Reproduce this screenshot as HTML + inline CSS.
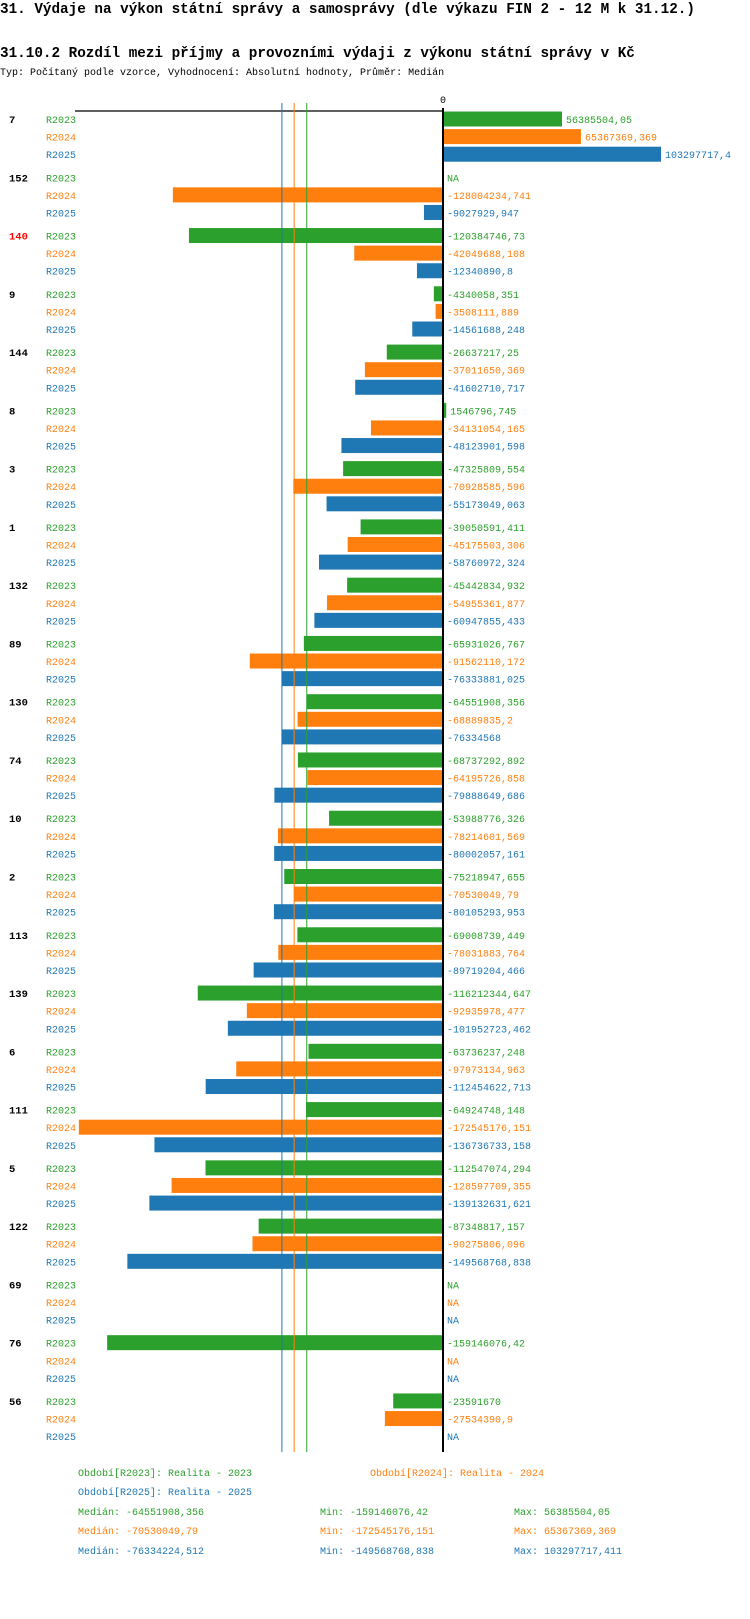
<!DOCTYPE html>
<html><head><meta charset="utf-8"><style>
body{margin:0;background:#fff;width:750px;height:1614px;overflow:hidden;font-family:"Liberation Mono",monospace}
svg text{font-family:"Liberation Mono",monospace}
</style></head><body>
<svg id="chart" width="750" height="1614" xmlns="http://www.w3.org/2000/svg">
<text x="0" y="13" font-size="14.3" font-weight="bold">31. Výdaje na výkon státní správy a samosprávy (dle výkazu FIN 2 - 12 M k 31.12.)</text>
<text x="0" y="57" font-size="14.3" font-weight="bold">31.10.2 Rozdíl mezi příjmy a provozními výdaji z výkonu státní správy v Kč</text>
<text x="0" y="75" font-size="10">Typ: Počítaný podle vzorce, Vyhodnocení: Absolutní hodnoty, Průměr: Medián</text>
<g id="plot"></g>
</svg>
<script>
const categories=["7","152","140","9","144","8","3","1","132","89","130","74","10","2","113","139","6","111","5","122","69","76","56"];
const r2023=[56385504.05,null,-120384746.73,-4340058.351,-26637217.25,1546796.745,-47325809.554,-39050591.411,-45442834.932,-65931026.767,-64551908.356,-68737292.892,-53988776.326,-75218947.655,-69008739.449,-116212344.647,-63736237.248,-64924748.148,-112547074.294,-87348817.157,null,-159146076.42,-23591670];
const r2024=[65367369.369,-128004234.741,-42049688.108,-3508111.889,-37011650.369,-34131054.165,-70928585.596,-45175503.306,-54955361.877,-91562110.172,-68889835.2,-64195726.858,-78214601.569,-70530049.79,-78031883.764,-92935978.477,-97973134.963,-172545176.151,-128597709.355,-90275806.096,null,null,-27534390.9];
const r2025=[103297717.4,-9027929.947,-12340890.8,-14561688.248,-41602710.717,-48123901.598,-55173049.063,-58760972.324,-60947855.433,-76333881.025,-76334568,-79888649.686,-80002057.161,-80105293.953,-89719204.466,-101952723.462,-112454622.713,-136736733.158,-139132631.621,-149568768.838,null,null,null];
const labels2023=["56385504,05","NA","-120384746,73","-4340058,351","-26637217,25","1546796,745","-47325809,554","-39050591,411","-45442834,932","-65931026,767","-64551908,356","-68737292,892","-53988776,326","-75218947,655","-69008739,449","-116212344,647","-63736237,248","-64924748,148","-112547074,294","-87348817,157","NA","-159146076,42","-23591670"];
const labels2024=["65367369,369","-128004234,741","-42049688,108","-3508111,889","-37011650,369","-34131054,165","-70928585,596","-45175503,306","-54955361,877","-91562110,172","-68889835,2","-64195726,858","-78214601,569","-70530049,79","-78031883,764","-92935978,477","-97973134,963","-172545176,151","-128597709,355","-90275806,096","NA","NA","-27534390,9"];
const labels2025=["103297717,4","-9027929,947","-12340890,8","-14561688,248","-41602710,717","-48123901,598","-55173049,063","-58760972,324","-60947855,433","-76333881,025","-76334568","-79888649,686","-80002057,161","-80105293,953","-89719204,466","-101952723,462","-112454622,713","-136736733,158","-139132631,621","-149568768,838","NA","NA","NA"];
const medians=[-64551908.356,-70530049.79,-76334224.512];
const seriesNames=["R2023","R2024","R2025"];
const colors=["#2ca02c","#ff7f0e","#1f77b4"];
const NS="http://www.w3.org/2000/svg";
const g=document.getElementById('plot');
const x0=443, k=218/103297717.4;
const xs=v=>x0+v*k;
const yRow=(i,j)=>119+i*58.27+j*17.6;
function mk(t,a){const e=document.createElementNS(NS,t);for(const p in a)e.setAttribute(p,a[p]);g.appendChild(e);return e;}
let e=mk('line',{x1:75,x2:443,y1:111,y2:111,stroke:'#000','stroke-width':1.3});


e=mk('text',{x:443,y:103,'font-size':10,'text-anchor':'middle'});e.textContent='0';


const all=[r2023,r2024,r2025], labs=[labels2023,labels2024,labels2025];
categories.forEach((c,i)=>{
  let t=mk('text',{x:9,y:yRow(i,0)+4,'font-size':10.5,'font-weight':'bold',fill:c==="140"?'#ff0000':'#000'});t.textContent=c;
  
  
  for(let j=0;j<3;j++){
    const y=yRow(i,j), v=all[j][i];
    let s=mk('text',{x:46,y:y+4,'font-size':10,fill:colors[j]});s.textContent=seriesNames[j];
    
    
    if(v!==null){
      const xa=Math.min(xs(v),x0), w=Math.abs(xs(v)-x0);
      let r=mk('rect',{x:xa,y:y-7.5,width:Math.max(w,1),height:15,fill:colors[j]});
      
      
    }
    const lx=(v!==null&&v>0)?xs(v)+4:447;
    let l=mk('text',{x:lx,y:y+4,'font-size':10,fill:colors[j]});l.textContent=labs[j][i];
    
    
  }
});
medians.forEach((m,j)=>{
  let l=mk('line',{x1:xs(m),x2:xs(m),y1:103,y2:1452,stroke:colors[2-j===j?j:j],'stroke-width':1});
  
  
});
e=mk('line',{x1:443,x2:443,y1:108,y2:1452,stroke:'#000','stroke-width':2});


const legend=[
 [78,1476,0,"Období[R2023]: Realita - 2023"],[370,1476,1,"Období[R2024]: Realita - 2024"],[78,1495,2,"Období[R2025]: Realita - 2025"],
 [78,1515,0,"Medián: -64551908,356"],[320,1515,0,"Min: -159146076,42"],[514,1515,0,"Max: 56385504,05"],
 [78,1534,1,"Medián: -70530049,79"],[320,1534,1,"Min: -172545176,151"],[514,1534,1,"Max: 65367369,369"],
 [78,1554,2,"Medián: -76334224,512"],[320,1554,2,"Min: -149568768,838"],[514,1554,2,"Max: 103297717,411"]];
legend.forEach(a=>{let t=mk('text',{x:a[0],y:a[1],'font-size':10,fill:colors[a[2]]});t.textContent=a[3];
  
  });
</script>
</body></html>
